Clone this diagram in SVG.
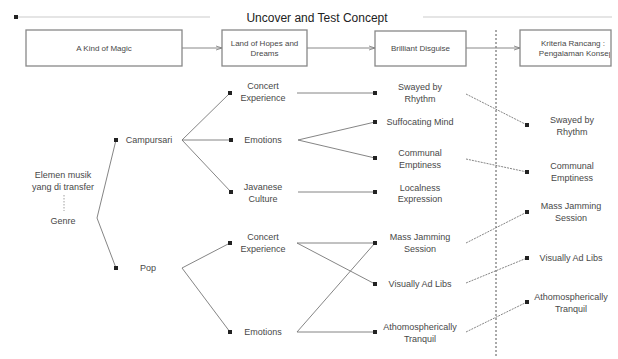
<svg xmlns="http://www.w3.org/2000/svg" width="618" height="359" viewBox="0 0 618 359">
<style>
text{font-family:"Liberation Sans",Arial,sans-serif;fill:#484848;text-anchor:middle}
.t{font-size:12px;fill:#222}
.b{font-size:8px}
.l{font-size:9px}
.box{fill:#fff;stroke:#888;stroke-width:1.3}
.c{fill:none;stroke:#777;stroke-width:0.9}
.d{fill:none;stroke:#777;stroke-width:0.9;stroke-dasharray:2 1}
.a{fill:none;stroke:#888;stroke-width:1}
</style>
<defs>
<marker id="dot" viewBox="0 0 4 4" refX="2" refY="2" markerWidth="4" markerHeight="4" markerUnits="userSpaceOnUse">
<rect width="4" height="4" fill="#222"/>
</marker>
<marker id="arr" viewBox="0 0 6 6" refX="6" refY="3" markerWidth="6" markerHeight="6" markerUnits="userSpaceOnUse" orient="auto">
<path d="M0,1 L6,3 L0,5" fill="none" stroke="#777" stroke-width="0.8"/>
</marker>
<clipPath id="clipK"><rect x="521" y="31" width="89" height="34"/></clipPath>
</defs>
<rect width="618" height="359" fill="#fff"/>
<g id="header">
<line x1="16" y1="17" x2="210" y2="17" stroke="#ccc" stroke-width="1.2" marker-start="url(#dot)"/>
<line x1="423" y1="17" x2="612" y2="17" stroke="#ccc" stroke-width="1.2"/>
<text class="t" x="317" y="22">Uncover and Test Concept</text>
</g>
<g id="divider">
<line x1="496" y1="30" x2="496" y2="356" stroke="#555" stroke-width="1" stroke-dasharray="2 2"/>
</g>
<g id="connectors">
<line class="a" x1="182" y1="48" x2="222" y2="48" marker-end="url(#arr)"/>
<line class="a" x1="307" y1="48" x2="375" y2="48" marker-end="url(#arr)"/>
<line class="a" x1="466" y1="48" x2="520" y2="48" marker-end="url(#arr)"/>
<polyline class="c" points="116,140 97,218 116,268" marker-start="url(#dot)" marker-end="url(#dot)"/>
<line class="c" x1="182" y1="140" x2="230" y2="93" marker-end="url(#dot)"/>
<line class="c" x1="182" y1="140" x2="231" y2="140" marker-end="url(#dot)"/>
<line class="c" x1="182" y1="140" x2="231" y2="192" marker-end="url(#dot)"/>
<line class="c" x1="182" y1="268" x2="230" y2="243" marker-end="url(#dot)"/>
<line class="c" x1="182" y1="268" x2="230" y2="332" marker-end="url(#dot)"/>
<line class="c" x1="297" y1="93" x2="375" y2="93" marker-end="url(#dot)"/>
<line class="c" x1="298" y1="140" x2="375" y2="122" marker-end="url(#dot)"/>
<line class="c" x1="298" y1="140" x2="375" y2="158" marker-end="url(#dot)"/>
<line class="c" x1="298" y1="192" x2="375" y2="192" marker-end="url(#dot)"/>
<line class="c" x1="297" y1="243" x2="375" y2="243" marker-end="url(#dot)"/>
<line class="c" x1="297" y1="243" x2="375" y2="284" marker-end="url(#dot)"/>
<line class="c" x1="297" y1="332" x2="375" y2="243" marker-end="url(#dot)"/>
<line class="c" x1="297" y1="332" x2="375" y2="332" marker-end="url(#dot)"/>
<line class="d" x1="466" y1="94" x2="527" y2="125" marker-end="url(#dot)"/>
<line class="d" x1="466" y1="159" x2="527" y2="172" marker-end="url(#dot)"/>
<line class="d" x1="466" y1="243" x2="527" y2="212" marker-end="url(#dot)"/>
<line class="d" x1="466" y1="283" x2="527" y2="258" marker-end="url(#dot)"/>
<line class="d" x1="466" y1="332" x2="527" y2="302" marker-end="url(#dot)"/>
<line x1="64" y1="195" x2="64" y2="211" stroke="#888" stroke-width="0.8" stroke-dasharray="1.5 1.5"/>
</g>
<g id="box-magic"><rect class="box" x="26" y="30" width="156" height="36"/><text class="b" x="104" y="51">A Kind of Magic</text></g>
<g id="box-hopes"><rect class="box" x="222" y="30" width="85" height="36"/><text class="b" x="264.5" y="46">Land of Hopes and</text><text class="b" x="264.5" y="56">Dreams</text></g>
<g id="box-disguise"><rect class="box" x="375" y="31" width="91" height="35"/><text class="b" x="420.5" y="51">Brilliant Disguise</text></g>
<g id="box-kriteria"><rect class="box" x="520" y="30" width="91" height="36"/><g clip-path="url(#clipK)"><text class="b" x="573" y="46">Kriteria Rancang :</text><text class="b" x="576" y="56">Pengalaman Konsep</text></g></g>
<g id="n-elemen"><text class="l" x="63" y="178">Elemen musik</text><text class="l" x="63" y="190">yang di transfer</text><text class="l" x="63" y="224">Genre</text></g>
<g id="n-campursari"><text class="l" x="149" y="143">Campursari</text></g>
<g id="n-pop"><text class="l" x="148" y="271">Pop</text></g>
<g id="n-ce1"><text class="l" x="263" y="89">Concert</text><text class="l" x="263" y="101">Experience</text></g>
<g id="n-em1"><text class="l" x="263" y="143">Emotions</text></g>
<g id="n-jc"><text class="l" x="263" y="190">Javanese</text><text class="l" x="263" y="202">Culture</text></g>
<g id="n-ce2"><text class="l" x="263" y="240">Concert</text><text class="l" x="263" y="252">Experience</text></g>
<g id="n-em2"><text class="l" x="263" y="335">Emotions</text></g>
<g id="n-swayed"><text class="l" x="420" y="90">Swayed by</text><text class="l" x="420" y="102">Rhythm</text></g>
<g id="n-suff"><text class="l" x="420" y="125">Suffocating Mind</text></g>
<g id="n-comm"><text class="l" x="420" y="156">Communal</text><text class="l" x="420" y="168">Emptiness</text></g>
<g id="n-local"><text class="l" x="420" y="191">Localness</text><text class="l" x="420" y="202">Expression</text></g>
<g id="n-mass"><text class="l" x="420" y="240">Mass Jamming</text><text class="l" x="420" y="252">Session</text></g>
<g id="n-vis"><text class="l" x="420" y="287">Visually Ad Libs</text></g>
<g id="n-atho"><text class="l" x="420" y="330">Athomospherically</text><text class="l" x="420" y="342">Tranquil</text></g>
<g id="r-swayed"><text class="l" x="572" y="123">Swayed by</text><text class="l" x="572" y="135">Rhythm</text></g>
<g id="r-comm"><text class="l" x="572" y="169">Communal</text><text class="l" x="572" y="181">Emptiness</text></g>
<g id="r-mass"><text class="l" x="571" y="209">Mass Jamming</text><text class="l" x="571" y="221">Session</text></g>
<g id="r-vis"><text class="l" x="571" y="261">Visually Ad Libs</text></g>
<g id="r-atho"><text class="l" x="571" y="300">Athomospherically</text><text class="l" x="571" y="312">Tranquil</text></g>
</svg>
